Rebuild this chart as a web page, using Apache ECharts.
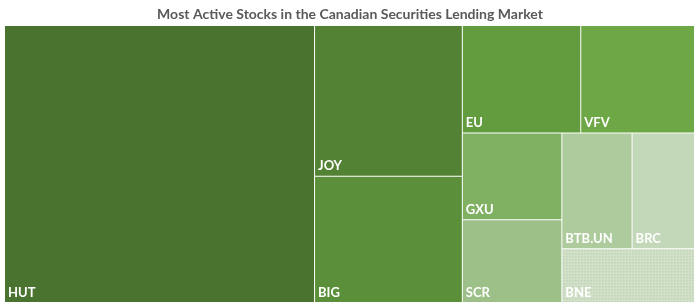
<!DOCTYPE html>
<html>
<head>
<meta charset="utf-8">
<script src="https://cdn.jsdelivr.net/npm/echarts@6/dist/echarts.min.js"></script>
<style>
  html, body { margin: 0; padding: 0; background: #ffffff; }
  #chart { width: 700px; height: 308px; }
</style>
</head>
<body>
<div id="chart"></div>
<script>
// Tickers and their relative sizes (read from rectangle areas)
var tickers = ['HUT', 'JOY', 'BIG', 'EU', 'VFV', 'GXU', 'SCR', 'BTB.UN', 'BRC', 'BNE'];
var values  = [85.6, 22.2, 18.6, 12.7, 12.2, 8.6, 8.2, 8.1, 7.2, 7.1];
var colors  = ['#4a7330', '#548235', '#5b8f39', '#629c3e', '#6ea745',
               '#80b163', '#9cc087', '#adcb9c', '#c3d7b9', '#d4e2cb'];
// Grouping of tickers (indices) that reproduces the reference layout
var topLevel = [0, 1, 2, 3, 4];
var groupS = [5, 6];
var groupT = [7, 8, 9];

function leaf(i) {
  var item = {
    name: tickers[i],
    value: values[i],
    itemStyle: { color: colors[i] }
  };
  if (tickers[i] === 'BNE') {
    item.itemStyle.decal = {
      symbol: 'circle',
      symbolSize: 0.5,
      color: 'rgba(140,175,125,0.5)',
      dashArrayX: [[3, 0]],
      dashArrayY: [3, 0],
      rotation: 0
    };
  }
  return item;
}

var tData = groupT.map(leaf);
var sData = groupS.map(leaf).concat([{ name: 'T', children: tData }]);
var data = topLevel.map(leaf).concat([{ name: 'S', children: sData }]);

var chart = echarts.init(document.getElementById('chart'), null, { renderer: 'canvas' });
chart.setOption({
  animation: false,
  backgroundColor: '#ffffff',
  title: {
    text: 'Most Active Stocks in the Canadian Securities Lending Market',
    left: 'center',
    top: 7,
    padding: 0,
    textStyle: {
      fontFamily: 'Lato',
      fontWeight: 'bold',
      fontSize: 14,
      color: '#595959'
    }
  },
  series: [{
    type: 'treemap',
    left: 5,
    top: 26,
    width: 689,
    height: 276,
    sort: false,
    roam: false,
    nodeClick: false,
    breadcrumb: { show: false },
    squareRatio: 0.5 * (1 + Math.sqrt(5)),
    itemStyle: {
      borderWidth: 0,
      gapWidth: 1,
      borderColor: '#ffffff'
    },
    upperLabel: { show: false },
    label: {
      show: true,
      position: 'insideBottomLeft',
      distance: 3,
      padding: 0,
      color: '#ffffff',
      fontFamily: 'Lato',
      fontWeight: 'bold',
      fontSize: 13,
      formatter: '{b}'
    },
    emphasis: { disabled: true },
    data: data
  }]
});
</script>
</body>
</html>
